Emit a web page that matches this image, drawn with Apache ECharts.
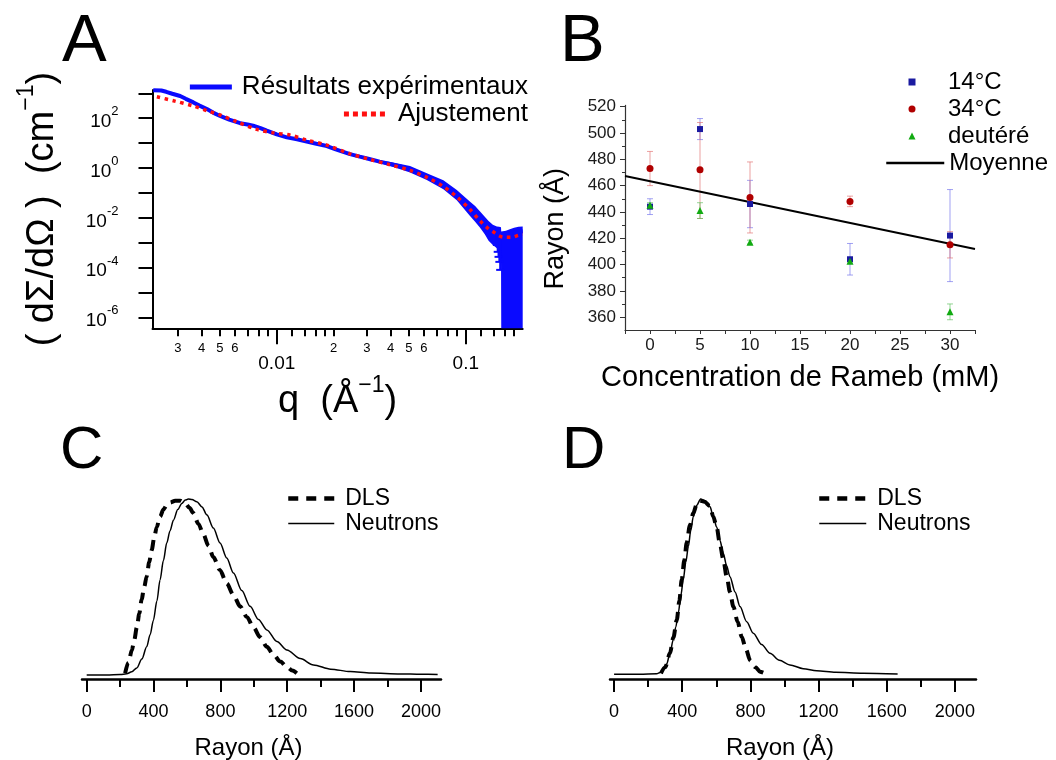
<!DOCTYPE html>
<html>
<head>
<meta charset="utf-8">
<script src="https://cdn.jsdelivr.net/npm/echarts@6/dist/echarts.min.js"></script>
<style>
  html, body { margin: 0; padding: 0; background: #fff; }
  #chart { width: 1056px; height: 760px; }
</style>
</head>
<body>
<div id="chart"></div>
<script>
// ---------- Panel A : diffusion curve, log-log ----------
const qExp = [0.00222, 0.00245, 0.0026, 0.0028, 0.00308, 0.0033, 0.00362, 0.0039, 0.00427, 0.0046,
  0.00501, 0.0056, 0.0064, 0.007, 0.0075, 0.0082, 0.00885, 0.01, 0.0113, 0.0128,
  0.0144, 0.0162, 0.0184, 0.0205, 0.0244, 0.0275, 0.0312, 0.035, 0.0397, 0.045,
  0.0507, 0.0562, 0.0622, 0.069, 0.0761, 0.083, 0.0896, 0.097, 0.105, 0.112,
  0.119, 0.126, 0.132, 0.139, 0.146, 0.154, 0.163, 0.171, 0.18, 0.19, 0.2];
const iExp = [1340, 1290, 1150, 960, 776, 600, 430, 320, 232, 168,
  123, 88, 63, 56, 50, 40, 31.6, 22.5, 17, 14.2,
  11.5, 9.4, 7.6, 5.6, 3.6, 2.85, 2.24, 1.8, 1.45, 1.15,
  0.89, 0.66, 0.46, 0.32, 0.2, 0.13, 0.08, 0.048, 0.027, 0.016,
  0.0095, 0.0058, 0.0038, 0.0027, 0.0021, 0.0019, 0.002, 0.0023, 0.0026, 0.0028, 0.0029];

// error envelope of the measurement (0 = lower bound below the axis)
const qBand = [0.035, 0.04, 0.0507, 0.0622, 0.0761, 0.0896, 0.105, 0.112, 0.119, 0.126,
  0.132, 0.139, 0.146, 0.15, 0.1535, 0.154, 0.163, 0.171, 0.18, 0.19, 0.2];
const iBandLow = [1.6, 1.2, 0.66, 0.33, 0.14, 0.051, 0.012, 0.007, 0.004, 0.0022,
  0.0012, 0.0008, 0.0006, 0.0005, 0.0005, 0, 0, 0, 0, 0, 0];
const iBandHigh = [2.0, 1.75, 1.2, 0.62, 0.32, 0.13, 0.045, 0.03, 0.018, 0.011,
  0.0075, 0.0052, 0.0045, 0.0044, 0.0042, 0.0028, 0.003, 0.0035, 0.004, 0.0044, 0.0045];

// individual error bars with caps near the last points
const qCap = [0.146, 0.1475, 0.149, 0.1505, 0.152];
const iCapLow = [0.00081, 0.00043, 0.00027, 0.00017, 0.000081];
const iCapHigh = [0.0021, 0.002, 0.002, 0.0019, 0.0019];

const qFit = [0.00232, 0.00284, 0.00362, 0.00427, 0.00501, 0.00614, 0.00784, 0.0096, 0.0118, 0.0144,
  0.0184, 0.0244, 0.0312, 0.0397, 0.0507, 0.0622, 0.0761, 0.0896, 0.105, 0.119,
  0.132, 0.1395, 0.15, 0.158, 0.175, 0.19, 0.2];
const iFit = [724, 501, 309, 200, 135, 72, 35.5, 25.7, 20.9, 13.2,
  8.3, 3.7, 2.2, 1.35, 0.8, 0.42, 0.18, 0.07, 0.022, 0.0075,
  0.0036, 0.00275, 0.0019, 0.00166, 0.00166, 0.002, 0.0022];

const qRange = [0.0022, 0.2];
const iRange = [3.65e-7, 1357];
const qMajorTicks = [0.01, 0.1];
const qMinorTicks = [0.003, 0.004, 0.005, 0.006, 0.007, 0.008, 0.009, 0.012, 0.014, 0.016, 0.018,
  0.02, 0.03, 0.04, 0.05, 0.06, 0.07, 0.08, 0.09, 0.12, 0.14, 0.16, 0.18];
const qMinorLabels = [0.003, 0.004, 0.005, 0.006, 0.02, 0.03, 0.04, 0.05, 0.06];
const iExponentTicks = [-6, -5, -4, -3, -2, -1, 0, 1, 2, 3];
const iExponentLabels = [-6, -4, -2, 0, 2];

// ---------- Panel B : radius vs Rameb concentration ----------
const concentrations = [0, 5, 10, 20, 30];
const r14 = [444, 503, 446, 404, 422];
const r14Low = [438, 495, 428, 392, 387];
const r14High = [450, 511, 464, 416, 457];
const r34 = [473, 472, 451, 448, 415];
const r34Low = [460, 435, 424, 444, 405];
const r34High = [486, 508, 478, 452, 425];
const rDeut = [445, 441, 417, 402.5, 364];
const rDeutLow = [443, 435, 415.5, 401, 358];
const rDeutHigh = [447, 447, 418.5, 404, 370];
const moyenneX = [-2.5, 32.5];
const moyenneY = [467.3, 411.8];
const bXTicks = [-2.5, 0, 2.5, 5, 7.5, 10, 12.5, 15, 17.5, 20, 22.5, 25, 27.5, 30, 32.5];
const bXLabels = [0, 5, 10, 15, 20, 25, 30];
const bYTicks = [360, 380, 400, 420, 440, 460, 480, 500, 520];
const bYMinor = [370, 390, 410, 430, 450, 470, 490, 510];

// ---------- Panels C and D : size distributions ----------
const rNeutronsC = [0, 120, 200, 240, 270, 300, 330, 359, 380, 399, 420, 439, 459, 479, 499, 519, 545, 569, 590, 608,
  630, 659, 690, 719, 758, 798, 838, 878, 928, 978, 1028, 1078, 1138, 1198, 1278, 1357, 1460, 1577, 1700, 1876, 2000, 2100];
const yNeutronsC = [0, 0, 0.002, 0.007, 0.018, 0.04, 0.09, 0.16, 0.23, 0.31, 0.42, 0.54, 0.65, 0.75, 0.82, 0.88, 0.94, 0.975, 0.994, 1.0,
  0.997, 0.985, 0.955, 0.91, 0.835, 0.75, 0.665, 0.58, 0.48, 0.39, 0.315, 0.256, 0.19, 0.142, 0.093, 0.057, 0.033, 0.019, 0.011, 0.006, 0.004, 0.003];
const rDlsC = [230, 250, 270, 285, 300, 315, 329, 344, 359, 374, 389, 404, 419, 439, 459, 479, 499, 530, 560, 590,
  615, 638, 668, 698, 728, 758, 798, 838, 878, 918, 958, 998, 1038, 1078, 1118, 1158, 1200, 1230, 1257];
const yDlsC = [0.01, 0.07, 0.14, 0.2, 0.27, 0.35, 0.43, 0.5, 0.56, 0.64, 0.71, 0.78, 0.84, 0.9, 0.94, 0.965, 0.98, 0.99, 0.99, 0.975,
  0.95, 0.92, 0.86, 0.8, 0.735, 0.67, 0.595, 0.52, 0.455, 0.39, 0.33, 0.27, 0.215, 0.16, 0.115, 0.076, 0.045, 0.025, 0.01];

const rNeutronsD = [0, 150, 250, 270, 290, 309, 328, 348, 362, 377, 392, 406, 421, 436, 450, 465, 485, 508, 535, 563,
  582, 602, 621, 641, 660, 680, 710, 739, 778, 817, 866, 915, 970, 1032, 1110, 1189, 1300, 1462, 1664];
const yNeutronsD = [0, 0, 0.003, 0.01, 0.03, 0.06, 0.12, 0.2, 0.27, 0.35, 0.45, 0.54, 0.64, 0.73, 0.82, 0.9, 0.965, 1.0, 0.99, 0.956,
  0.9, 0.84, 0.765, 0.69, 0.62, 0.557, 0.47, 0.386, 0.3, 0.234, 0.17, 0.12, 0.08, 0.053, 0.032, 0.02, 0.011, 0.006, 0.002];
const rDlsD = [275, 300, 328, 348, 368, 383, 397, 412, 426, 445, 465, 485, 504, 530, 563, 582, 602, 620, 640, 661,
  680, 700, 725, 749, 775, 798, 830, 856, 886];
const yDlsD = [0.005, 0.04, 0.12, 0.21, 0.31, 0.42, 0.54, 0.65, 0.75, 0.85, 0.92, 0.97, 0.99, 0.985, 0.96, 0.9, 0.84, 0.75, 0.66, 0.557,
  0.47, 0.386, 0.3, 0.214, 0.14, 0.08, 0.04, 0.015, 0.005];

const rayonMajor = [0, 400, 800, 1200, 1600, 2000];
const rayonMinor = [200, 600, 1000, 1400, 1800];

// ---------- styling helpers ----------
const FONT = '"Liberation Sans", Arial, Helvetica, sans-serif';
const BLACK = '#000';
const BLUE = '#0a0aff';
const RED = '#ff1010';
const lg = Math.log10;
const pairs = (xs, ys) => xs.map((x, k) => [x, ys[k]]);
const txt = (size, extra) => Object.assign({ fontFamily: FONT, fontSize: size, color: BLACK }, extra || {});
// line-only legend keys (no marker on the key)
const LINE_KEY = { opacity: 0 };
const DLS_STYLE = { color: BLACK, width: 4, type: [11, 7] };
const NEUTRONS_STYLE = { color: BLACK, width: 1.5 };

function errorBarRender(params, api) {
  const x = api.value(0);
  const a = api.coord([x, api.value(1)]);
  const b = api.coord([x, api.value(2)]);
  const style = { stroke: api.visual('color'), lineWidth: 1 };
  const hw = 3;
  return {
    type: 'group',
    children: [
      { type: 'line', shape: { x1: a[0], y1: a[1], x2: b[0], y2: b[1] }, style },
      { type: 'line', shape: { x1: a[0] - hw, y1: a[1], x2: a[0] + hw, y2: a[1] }, style },
      { type: 'line', shape: { x1: b[0] - hw, y1: b[1], x2: b[0] + hw, y2: b[1] }, style }
    ]
  };
}

function rayonAxes(grid, min, max) {
  return [
    {
      gridIndex: grid, type: 'value', position: 'bottom', min, max,
      axisLine: { show: true, onZero: false, lineStyle: { color: BLACK, width: 2.5 } },
      axisTick: { show: true, customValues: rayonMajor, length: 13, lineStyle: { color: BLACK, width: 2 } },
      axisLabel: {
        show: true, customValues: rayonMajor, margin: 24, formatter: v => String(v),
        fontFamily: FONT, fontSize: 18, color: BLACK
      },
      splitLine: { show: false },
      name: 'Rayon (Å)', nameLocation: 'middle', nameGap: 57,
      nameTextStyle: txt(24, { padding: [0, 26, 0, 0] })
    },
    {
      gridIndex: grid, type: 'value', position: 'bottom', min, max,
      axisLine: { show: false, onZero: false },
      axisTick: { show: true, customValues: rayonMinor, length: 8, lineStyle: { color: BLACK, width: 2 } },
      axisLabel: { show: false },
      splitLine: { show: false }
    }
  ];
}

const supRich = (base, sup, lh, supLh) => ({
  n: txt(base, { lineHeight: lh, verticalAlign: 'bottom' }),
  s: txt(sup, { lineHeight: supLh, verticalAlign: 'top' })
});

const distributionLegend = (left, itemWidth) => ({
  data: [
    { name: 'DLS', lineStyle: { width: 4.5, type: [10, 8] } },
    { name: 'Neutrons', lineStyle: { width: 1.5 } }
  ],
  left, top: 487, orient: 'vertical', padding: 0, align: 'left',
  itemWidth, itemHeight: 14, itemGap: 2, selectedMode: false, itemStyle: LINE_KEY,
  textStyle: txt(23, { padding: [0, 0, 0, 6] })
});

const option = {
  animation: false,
  backgroundColor: '#fff',
  textStyle: { fontFamily: FONT },
  grid: [
    { left: 152.5, top: 90, width: 370.2, height: 238.3, outerBoundsMode: 'none' },
    { left: 625, top: 105.4, width: 350, height: 224.6, outerBoundsMode: 'none' },
    { left: 82, top: 495.5, width: 359, height: 183.5, outerBoundsMode: 'none' },
    { left: 610, top: 495.5, width: 366, height: 183.5, outerBoundsMode: 'none' }
  ],
  xAxis: [
    // A: logarithmic data axis
    { gridIndex: 0, type: 'log', logBase: 10, min: qRange[0], max: qRange[1], show: false },
    // A: decades, labels and title
    {
      gridIndex: 0, type: 'value', position: 'bottom', min: lg(qRange[0]), max: lg(qRange[1]),
      axisLine: { show: true, onZero: false, lineStyle: { color: BLACK, width: 2 } },
      axisTick: { show: true, customValues: qMajorTicks.map(lg), length: 16, lineStyle: { color: BLACK, width: 2 } },
      axisLabel: {
        show: true, customValues: qMajorTicks.map(lg), margin: 26,
        formatter: v => String(+Math.pow(10, v).toPrecision(1)),
        fontFamily: FONT, fontSize: 19, color: BLACK
      },
      splitLine: { show: false },
      name: '{n|q  (Å}{s|−1}{n|)}', nameLocation: 'middle', nameGap: 44,
      nameTextStyle: { rich: supRich(38, 23, 46, 18) }
    },
    // A: sub-decade ticks
    {
      gridIndex: 0, type: 'value', position: 'bottom', min: lg(qRange[0]), max: lg(qRange[1]),
      axisLine: { show: false, onZero: false },
      axisTick: { show: true, customValues: qMinorTicks.map(lg), length: 8, lineStyle: { color: BLACK, width: 2 } },
      axisLabel: {
        show: true, customValues: qMinorLabels.map(lg), margin: 14,
        formatter: v => String(Math.round(Math.pow(10, v - Math.floor(v + 1e-9)))),
        fontFamily: FONT, fontSize: 13, color: BLACK
      },
      splitLine: { show: false }
    },
    // B
    {
      gridIndex: 1, type: 'value', position: 'bottom', min: -2.5, max: 32.5,
      axisLine: { show: true, onZero: false, lineStyle: { color: '#333', width: 1.2 } },
      axisTick: { show: true, customValues: bXTicks, length: 4, lineStyle: { color: '#333', width: 1 } },
      axisLabel: { show: true, customValues: bXLabels, margin: 7, fontFamily: FONT, fontSize: 17, color: '#1a1a1a' },
      splitLine: { show: false },
      name: 'Concentration de Rameb (mM)', nameLocation: 'middle', nameGap: 33.5,
      nameTextStyle: txt(29)
    },
    // C
    ...rayonAxes(2, -28, 2120),
    // D
    ...rayonAxes(3, -24, 2124)
  ],
  yAxis: [
    // A: logarithmic data axis
    { gridIndex: 0, type: 'log', logBase: 10, min: iRange[0], max: iRange[1], show: false },
    // A: decades, labels and title
    {
      gridIndex: 0, type: 'value', position: 'left', min: lg(iRange[0]), max: lg(iRange[1]),
      axisLine: { show: true, onZero: false, lineStyle: { color: BLACK, width: 2 } },
      axisTick: { show: true, customValues: iExponentTicks, length: 14, lineStyle: { color: BLACK, width: 2 } },
      axisLabel: {
        show: true, customValues: iExponentLabels, margin: 34,
        formatter: v => '{n|10}{s|' + v + '}',
        rich: supRich(19, 13, 26, 13)
      },
      splitLine: { show: false },
      name: '{n|( dΣ/dΩ )  (cm}{s|−1}{n|)}', nameLocation: 'middle', nameGap: 91,
      nameTextStyle: { rich: supRich(38, 23, 46, 18) }
    },
    // B: main ticks and labels
    {
      gridIndex: 1, type: 'value', position: 'left', min: 350.2, max: 521,
      axisLine: { show: true, onZero: false, lineStyle: { color: '#333', width: 1.2 } },
      axisTick: { show: true, customValues: bYTicks, length: 5, lineStyle: { color: '#333', width: 1 } },
      axisLabel: { show: true, customValues: bYTicks, margin: 9, fontFamily: FONT, fontSize: 17, color: '#1a1a1a' },
      splitLine: { show: false },
      name: 'Rayon (Å)', nameLocation: 'middle', nameGap: 56,
      nameTextStyle: txt(27, { padding: [0, 22, 0, 0] })
    },
    // B: intermediate ticks
    {
      gridIndex: 1, type: 'value', position: 'left', min: 350.2, max: 521,
      axisLine: { show: false, onZero: false },
      axisTick: { show: true, customValues: bYMinor, length: 3, lineStyle: { color: '#333', width: 1 } },
      axisLabel: { show: false },
      splitLine: { show: false }
    },
    // C, D: hidden intensity axes
    { gridIndex: 2, type: 'value', min: -0.023, max: 1.02, show: false },
    { gridIndex: 3, type: 'value', min: -0.027, max: 1.02, show: false }
  ],
  legend: [
    {
      data: ['Résultats expérimentaux'], right: 528, top: 74, padding: 0, align: 'left',
      itemWidth: 42, itemHeight: 14, selectedMode: false, itemStyle: LINE_KEY,
      lineStyle: { width: 5 },
      textStyle: txt(26, { padding: [0, 0, 0, 5] })
    },
    {
      data: ['Ajustement'], right: 528, top: 101, padding: 0, align: 'left',
      itemWidth: 44, itemHeight: 14, selectedMode: false, itemStyle: LINE_KEY,
      lineStyle: { width: 5, type: [5, 4] },
      textStyle: txt(26, { padding: [0, 0, 0, 5] })
    },
    {
      data: ['14°C', '34°C', 'deutéré'], left: 908.5, top: 70, orient: 'vertical', padding: 0, align: 'left',
      itemWidth: 7, itemHeight: 7, itemGap: 3, selectedMode: false,
      textStyle: txt(24, { padding: [0, 0, 0, 27.5] })
    },
    {
      data: ['Moyenne'], left: 885, top: 151, padding: 0, align: 'left',
      itemWidth: 58, itemHeight: 14, selectedMode: false, itemStyle: LINE_KEY,
      lineStyle: { width: 2.5 },
      textStyle: txt(24)
    },
    distributionLegend(286, 46),
    distributionLegend(817, 47)
  ],
  graphic: [
    { type: 'text', x: 62, y: 42.5, style: { text: 'A', fontFamily: FONT, fontSize: 67, fill: BLACK, align: 'left', verticalAlign: 'middle' } },
    { type: 'text', x: 560, y: 42.5, style: { text: 'B', fontFamily: FONT, fontSize: 67, fill: BLACK, align: 'left', verticalAlign: 'middle' } },
    { type: 'text', x: 60, y: 451, style: { text: 'C', fontFamily: FONT, fontSize: 60, fill: BLACK, align: 'left', verticalAlign: 'middle' } },
    { type: 'text', x: 562, y: 451, style: { text: 'D', fontFamily: FONT, fontSize: 60, fill: BLACK, align: 'left', verticalAlign: 'middle' } }
  ],
  series: [
    // ----- A -----
    {
      name: 'enveloppe', type: 'custom', coordinateSystem: 'cartesian2d', xAxisIndex: 0, yAxisIndex: 0, z: 2,
      data: [[qBand[0], iBandHigh[0]]],
      renderItem: (params, api) => {
        const cs = params.coordSys;
        const bottom = cs.y + cs.height;
        const upper = qBand.map((q, k) => api.coord([q, iBandHigh[k]]));
        const lower = qBand.map((q, k) => iBandLow[k] > iRange[0]
          ? api.coord([q, iBandLow[k]])
          : [api.coord([q, iBandHigh[k]])[0], bottom]).reverse();
        return { type: 'polygon', shape: { points: upper.concat(lower) }, style: { fill: BLUE } };
      }
    },
    {
      name: 'barres', type: 'custom', coordinateSystem: 'cartesian2d', xAxisIndex: 0, yAxisIndex: 0, z: 2,
      encode: { x: 0, y: [1, 2] },
      data: qCap.map((q, k) => [q, iCapLow[k], iCapHigh[k]]),
      renderItem: (params, api) => {
        const q = api.value(0);
        const a = api.coord([q, api.value(1)]);
        const b = api.coord([q, api.value(2)]);
        const style = { stroke: BLUE, lineWidth: 2 };
        return {
          type: 'group', children: [
            { type: 'line', shape: { x1: a[0], y1: a[1], x2: b[0], y2: b[1] }, style },
            { type: 'line', shape: { x1: a[0] - 4, y1: a[1], x2: a[0] + 4, y2: a[1] }, style }
          ]
        };
      }
    },
    {
      name: 'Résultats expérimentaux', type: 'line', xAxisIndex: 0, yAxisIndex: 0, z: 3,
      data: pairs(qExp, iExp), symbol: 'none', clip: false,
      lineStyle: { color: BLUE, width: 4 }, itemStyle: { color: BLUE }
    },
    {
      name: 'Ajustement', type: 'line', xAxisIndex: 0, yAxisIndex: 0, z: 4,
      data: pairs(qFit, iFit), symbol: 'none', smooth: 0.3,
      lineStyle: { color: RED, width: 3.5, type: [3.5, 4.5] }, itemStyle: { color: RED }
    },
    // ----- B -----
    {
      name: 'err14', type: 'custom', xAxisIndex: 3, yAxisIndex: 2, z: 2, encode: { x: 0, y: [1, 2] },
      data: concentrations.map((c, k) => [c, r14Low[k], r14High[k]]),
      itemStyle: { color: 'rgba(110,110,235,0.65)' }, renderItem: errorBarRender
    },
    {
      name: 'err34', type: 'custom', xAxisIndex: 3, yAxisIndex: 2, z: 2, encode: { x: 0, y: [1, 2] },
      data: concentrations.map((c, k) => [c, r34Low[k], r34High[k]]),
      itemStyle: { color: 'rgba(225,110,110,0.65)' }, renderItem: errorBarRender
    },
    {
      name: 'errDeut', type: 'custom', xAxisIndex: 3, yAxisIndex: 2, z: 2, encode: { x: 0, y: [1, 2] },
      data: concentrations.map((c, k) => [c, rDeutLow[k], rDeutHigh[k]]),
      itemStyle: { color: 'rgba(90,190,90,0.65)' }, renderItem: errorBarRender
    },
    {
      name: 'Moyenne', type: 'line', xAxisIndex: 3, yAxisIndex: 2, z: 3,
      data: pairs(moyenneX, moyenneY), symbol: 'none',
      lineStyle: { color: BLACK, width: 2 }, itemStyle: { color: BLACK }
    },
    {
      name: '14°C', type: 'scatter', xAxisIndex: 3, yAxisIndex: 2, z: 4,
      data: pairs(concentrations, r14), symbol: 'rect', symbolSize: 6,
      itemStyle: { color: '#1a1aa0', opacity: 1 }
    },
    {
      name: '34°C', type: 'scatter', xAxisIndex: 3, yAxisIndex: 2, z: 4,
      data: pairs(concentrations, r34), symbol: 'circle', symbolSize: 7,
      itemStyle: { color: '#b00000', opacity: 1 }
    },
    {
      name: 'deutéré', type: 'scatter', xAxisIndex: 3, yAxisIndex: 2, z: 4,
      data: pairs(concentrations, rDeut), symbol: 'triangle', symbolSize: 7,
      itemStyle: { color: '#12aa12', opacity: 1 }
    },
    // ----- C -----
    {
      name: 'DLS', type: 'line', xAxisIndex: 4, yAxisIndex: 4, z: 3,
      data: pairs(rDlsC, yDlsC), symbol: 'none', smooth: 0.3, smoothMonotone: 'x',
      lineStyle: DLS_STYLE, itemStyle: { color: BLACK }
    },
    {
      name: 'Neutrons', type: 'line', xAxisIndex: 4, yAxisIndex: 4, z: 3,
      data: pairs(rNeutronsC, yNeutronsC), symbol: 'none', smooth: 0.3, smoothMonotone: 'x',
      lineStyle: NEUTRONS_STYLE, itemStyle: { color: BLACK }
    },
    // ----- D -----
    {
      name: 'DLS', type: 'line', xAxisIndex: 6, yAxisIndex: 5, z: 3,
      data: pairs(rDlsD, yDlsD), symbol: 'none', smooth: 0.3, smoothMonotone: 'x',
      lineStyle: DLS_STYLE, itemStyle: { color: BLACK }
    },
    {
      name: 'Neutrons', type: 'line', xAxisIndex: 6, yAxisIndex: 5, z: 3,
      data: pairs(rNeutronsD, yNeutronsD), symbol: 'none', smooth: 0.3, smoothMonotone: 'x',
      lineStyle: NEUTRONS_STYLE, itemStyle: { color: BLACK }
    }
  ]
};

const chart = echarts.init(document.getElementById('chart'), null, { renderer: 'canvas' });
chart.setOption(option);
</script>
</body>
</html>
